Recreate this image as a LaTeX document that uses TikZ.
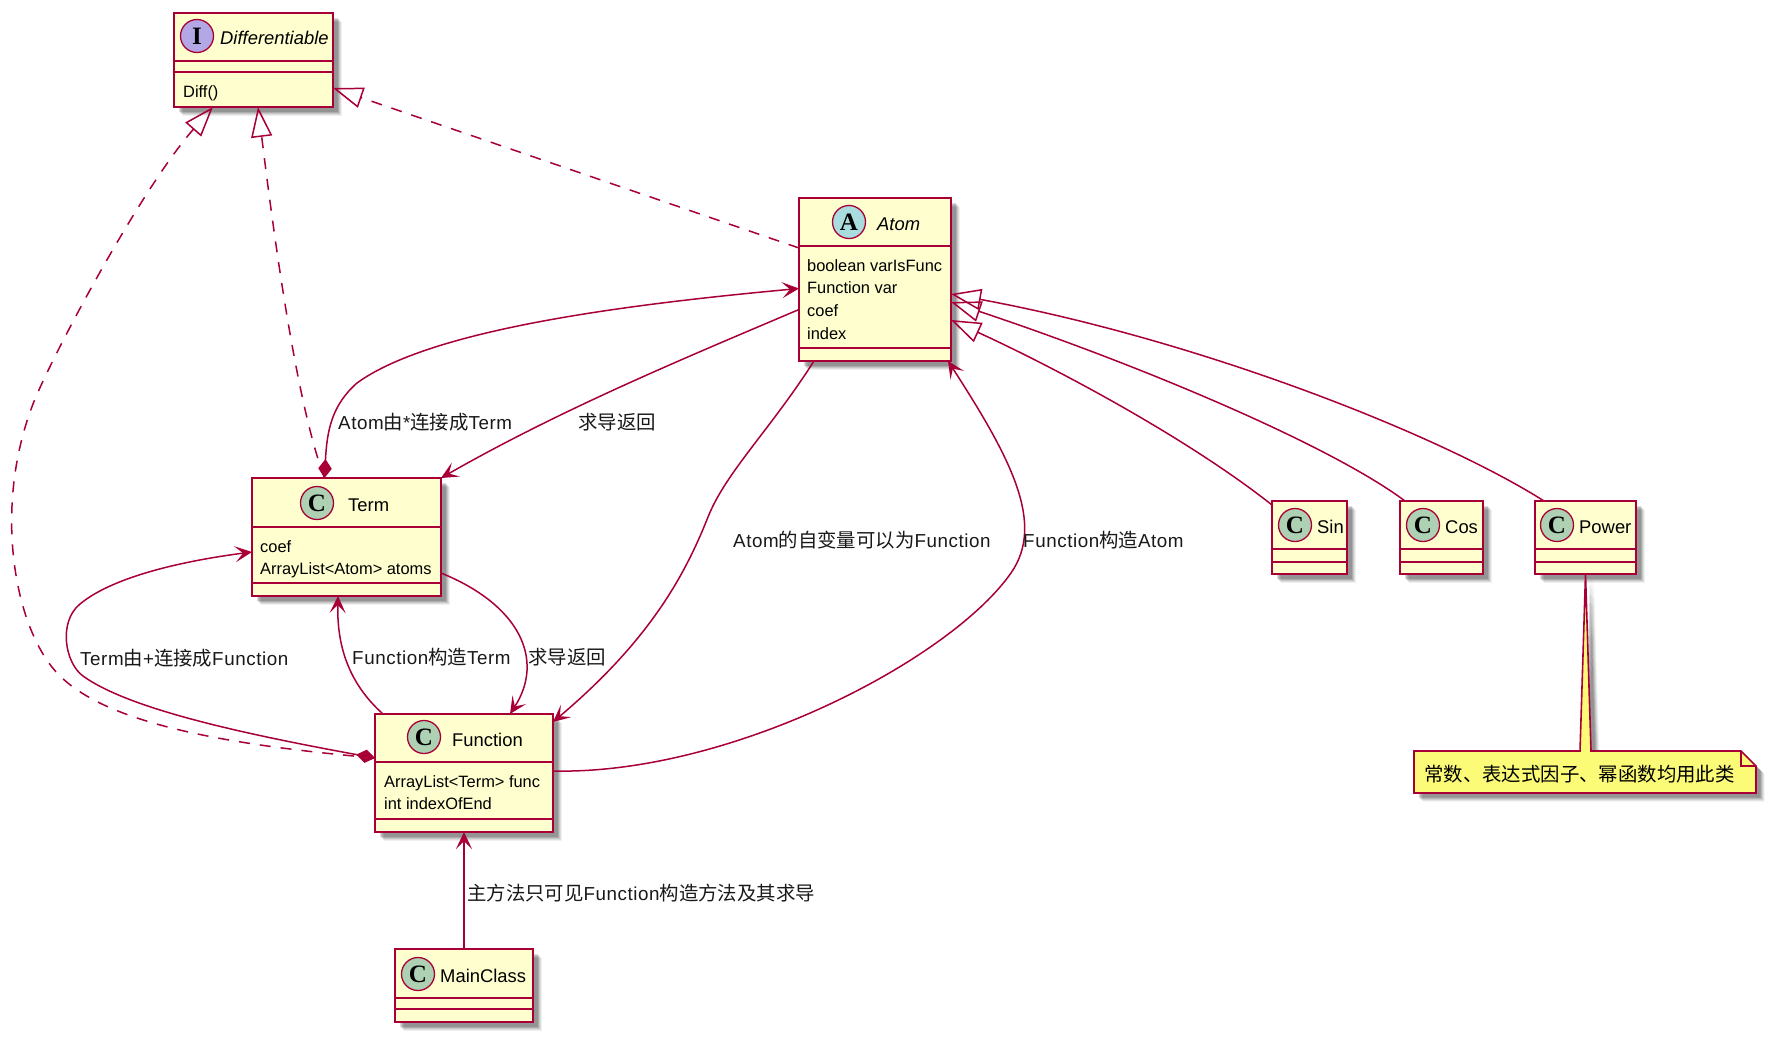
\documentclass[tikz,border=0pt]{standalone}
\usepackage{fontspec}
\setmainfont{Liberation Sans}
\newfontfamily\cjkfont{Noto Sans CJK SC}
\newfontfamily\spotfont{Liberation Serif}
\newfontfamily\labelfont[LetterSpace=3]{Liberation Sans}
\usetikzlibrary{arrows.meta,shadows}
\definecolor{umlred}{HTML}{A80036}
\definecolor{umlfill}{HTML}{FEFECE}
\definecolor{notefill}{HTML}{FBFB77}
\definecolor{spotc}{HTML}{ADD1B2}
\definecolor{spoti}{HTML}{B4A7E5}
\definecolor{spota}{HTML}{A9DCDF}
\newcommand\zh[1]{{\fontsize{19.4}{22}\cjkfont #1}}
\tikzset{
  softshadow/.style={
    general shadow={shadow xshift=8.5pt,shadow yshift=-8.5pt,fill=black,opacity=.06},
    general shadow={shadow xshift=7.5pt,shadow yshift=-7.5pt,fill=black,opacity=.08},
    general shadow={shadow xshift=6.5pt,shadow yshift=-6.5pt,fill=black,opacity=.1},
    general shadow={shadow xshift=5.5pt,shadow yshift=-5.5pt,fill=black,opacity=.12},
    general shadow={shadow xshift=4.5pt,shadow yshift=-4.5pt,fill=black,opacity=.14}},
  classbox/.style={draw=umlred,fill=umlfill,line width=2.3pt,inner sep=0pt,outer sep=0pt,
    anchor=north west,rectangle,softshadow},
  sepline/.style={draw=umlred,line width=2pt},
  spot/.style={circle,draw=umlred,line width=1.3pt,minimum size=33pt,inner sep=0pt,
    font=\fontsize{25}{25}\spotfont\bfseries},
  nametext/.style={anchor=base west,inner sep=0pt,font=\fontsize{18.4}{22}\selectfont},
  nameital/.style={nametext,font=\fontsize{18.4}{22}\selectfont\itshape},
  bodytext/.style={anchor=base west,inner sep=0pt,font=\fontsize{16.4}{20}\selectfont},
  edgelabel/.style={anchor=base west,inner sep=0pt,text=black!90,font=\fontsize{18.8}{22}\labelfont},
  link/.style={draw=umlred,line width=1.5pt},
  barb/.style={-{Stealth[length=17pt,width=16pt,inset=8pt,umlred]}},
  realizes/.style={link,dash pattern=on 11pt off 10pt,-{Triangle[open,length=30pt,width=21pt,umlred]}},
  extends/.style={link,-{Triangle[open,length=30pt,width=21pt,umlred]}},
  owner/.style={{Diamond[length=19pt,width=13.5pt,umlred]}-{Stealth[length=17pt,width=16pt,inset=8pt,umlred]}},
}
\begin{document}
\begin{tikzpicture}[x=1pt,y=-1pt]
\useasboundingbox (0,0) rectangle (1774,1036);
\fill[white] (0,0) rectangle (1774,1036);

% classes
\node[classbox,minimum width=159pt,minimum height=94pt] (diff) at (174,13) {};
\node[classbox,minimum width=152pt,minimum height=163pt] (atom) at (799,198) {};
\node[classbox,minimum width=189pt,minimum height=118pt] (term) at (252,478) {};
\node[classbox,minimum width=178pt,minimum height=118pt] (func) at (375,714) {};
\node[classbox,minimum width=75pt,minimum height=73pt] (sin) at (1272,501) {};
\node[classbox,minimum width=83pt,minimum height=73pt] (cos) at (1400,501) {};
\node[classbox,minimum width=101pt,minimum height=73pt] (power) at (1535,501) {};
\node[classbox,minimum width=138pt,minimum height=73pt] (main) at (395,949) {};

% compartments
\draw[sepline] ([yshift=-48pt]diff.north west) -- ([yshift=-48pt]diff.north east);
\draw[sepline] ([yshift=-59pt]diff.north west) -- ([yshift=-59pt]diff.north east);
\draw[sepline] ([yshift=-48pt]atom.north west) -- ([yshift=-48pt]atom.north east);
\draw[sepline] ([yshift=-150pt]atom.north west) -- ([yshift=-150pt]atom.north east);
\draw[sepline] ([yshift=-49pt]term.north west) -- ([yshift=-49pt]term.north east);
\draw[sepline] ([yshift=-105pt]term.north west) -- ([yshift=-105pt]term.north east);
\draw[sepline] ([yshift=-48pt]func.north west) -- ([yshift=-48pt]func.north east);
\draw[sepline] ([yshift=-105pt]func.north west) -- ([yshift=-105pt]func.north east);
\draw[sepline] ([yshift=-48pt]sin.north west) -- ([yshift=-48pt]sin.north east);
\draw[sepline] ([yshift=-61pt]sin.north west) -- ([yshift=-61pt]sin.north east);
\draw[sepline] ([yshift=-48pt]cos.north west) -- ([yshift=-48pt]cos.north east);
\draw[sepline] ([yshift=-61pt]cos.north west) -- ([yshift=-61pt]cos.north east);
\draw[sepline] ([yshift=-48pt]power.north west) -- ([yshift=-48pt]power.north east);
\draw[sepline] ([yshift=-61pt]power.north west) -- ([yshift=-61pt]power.north east);
\draw[sepline] ([yshift=-49pt]main.north west) -- ([yshift=-49pt]main.north east);
\draw[sepline] ([yshift=-60pt]main.north west) -- ([yshift=-60pt]main.north east);

% spots
\node[spot,fill=spoti] (diffspot) at (197,36) {I};
\node[spot,fill=spota] (atomspot) at (849,222) {A};
\node[spot,fill=spotc] (termspot) at (317,503) {C};
\node[spot,fill=spotc] (funcspot) at (424,737) {C};
\node[spot,fill=spotc] (sinspot) at (1295,525) {C};
\node[spot,fill=spotc] (cosspot) at (1423,525) {C};
\node[spot,fill=spotc] (powerspot) at (1557,525) {C};
\node[spot,fill=spotc] (mainspot) at (418,974) {C};

% names
\node[nameital] (diffname) at (220,44) {Differentiable};
\node[nameital] (atomname) at (877,230) {Atom};
\node[nametext] (termname) at (348,511) {Term};
\node[nametext] (funcname) at (452,746) {Function};
\node[nametext] (sinname) at (1317,533) {Sin};
\node[nametext] (cosname) at (1445,533) {Cos};
\node[nametext] (powername) at (1579,533) {Power};
\node[nametext] (mainname) at (440,982) {MainClass};

% members
\node[bodytext] (diffm) at (183,97) {Diff()};
\node[bodytext] (atomf1) at (807,271) {boolean varIsFunc};
\node[bodytext] (atomf2) at (807,293) {Function var};
\node[bodytext] (atomf3) at (807,316) {coef};
\node[bodytext] (atomf4) at (807,339) {index};
\node[bodytext] (termf1) at (260,552) {coef};
\node[bodytext] (termf2) at (260,574) {ArrayList<Atom> atoms};
\node[bodytext] (funcf1) at (384,787) {ArrayList<Term> func};
\node[bodytext] (funcf2) at (384,809) {int indexOfEnd};

% note
\node[inner sep=0pt,outer sep=0pt,minimum width=342pt,minimum height=42pt,anchor=north west] (note) at (1414,751) {};
\path[draw=umlred,fill=notefill,line width=1.6pt,softshadow]
  (note.north west) -- ([xshift=166pt]note.north west) -- (power.south)
  -- ([xshift=177pt]note.north west) -- ([xshift=-15pt]note.north east)
  -- ([yshift=-15pt]note.north east) -- (note.south east) -- (note.south west) -- cycle;
\draw[umlred,line width=1.6pt] ([xshift=-15pt]note.north east) -- ([xshift=-15pt,yshift=-15pt]note.north east) -- ([yshift=-15pt]note.north east);
\node[anchor=base west,inner sep=0pt,font=\fontsize{19.4}{22}\cjkfont] (notetext) at (1424,781) {常数、表达式因子、幂函数均用此类};

% connectors
\draw[realizes] ([yshift=-50pt]atom.north west) -- ([yshift=-28pt]diff.east);
\draw[realizes] ([xshift=-22pt]term.north) .. controls (295,400) and (272,220) .. ([xshift=4.5pt]diff.south);
\draw[realizes] ([yshift=15pt]func.west) .. controls (230,745) and (110,725) .. (60,676)
   .. controls (15,632) and (-8,510) .. (33,404)
   .. controls (50,360) and (140,190) .. ([xshift=39pt]diff.south west);
\draw[link,owner] ([xshift=-22pt]term.north) .. controls (327,430) and (332,405) .. (357,383)
   .. controls (430,330) and (620,305) .. ([yshift=-9pt]atom.west);
\draw[link,barb] ([yshift=-30pt]atom.west) .. controls (680,360) and (560,410) .. (term.north east);
\draw[link,barb] ([xshift=15pt]atom.south west) .. controls (770,430) and (726,472) .. (708,517)
   .. controls (685,575) and (650,640) .. ([yshift=-8pt]func.north east);
\draw[link,barb] ([yshift=-57pt]func.north east) .. controls (730,775) and (950,660) .. (1011,573)
   .. controls (1045,524) and (1012,460) .. ([xshift=-3pt]atom.south east);
\draw[link,barb] ([yshift=-95pt]term.north east) .. controls (520,605) and (545,660) .. ([xshift=46pt]func.north);
\draw[link,barb] ([xshift=-81pt]func.north) .. controls (345,680) and (337,640) .. ([xshift=-8.5pt]term.south);
\draw[link,owner] ([yshift=15pt]func.west) .. controls (250,735) and (130,710) .. (83,676)
   .. controls (65,663) and (58,622) .. (80,604)
   .. controls (115,575) and (190,560) .. ([yshift=-74pt]term.north west);
\draw[link,barb] (main.north) -- (func.south);
\draw[extends] ([yshift=-4pt]sin.north west) .. controls (1190,440) and (1060,370) .. ([yshift=-122pt]atom.north east);
\draw[extends] ([xshift=5pt]cos.north west) .. controls (1330,445) and (1140,365) .. ([yshift=-104pt]atom.north east);
\draw[extends] ([xshift=9pt]power.north west) .. controls (1440,435) and (1200,340) .. ([yshift=-96pt]atom.north east);

% connector labels
\node[edgelabel] (l1) at (338,429) {Atom\zh{由}*\zh{连接成}Term};
\node[edgelabel] (l2) at (578,429) {\zh{求导返回}};
\node[edgelabel] (l3) at (733,547) {Atom\zh{的自变量可以为}Function};
\node[edgelabel] (l4) at (1023,547) {Function\zh{构造}Atom};
\node[edgelabel] (l5) at (80,665) {Term\zh{由}+\zh{连接成}Function};
\node[edgelabel] (l6) at (352,664) {Function\zh{构造}Term};
\node[edgelabel] (l7) at (528,664) {\zh{求导返回}};
\node[edgelabel] (l8) at (467,900) {\zh{主方法只可见}Function\zh{构造方法及其求导}};
\end{tikzpicture}
\end{document}
